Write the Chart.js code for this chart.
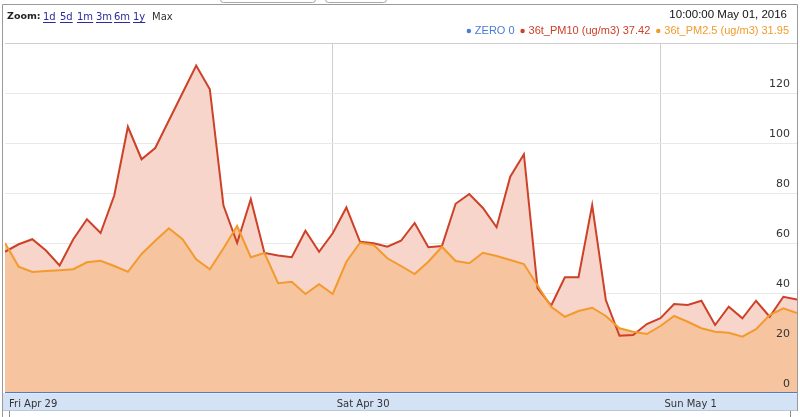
<!DOCTYPE html>
<html><head><meta charset="utf-8">
<script src="https://cdn.jsdelivr.net/npm/chart.js@4/dist/chart.umd.min.js"></script>
<style>html,body{margin:0;padding:0;background:#fff;overflow:hidden}#wrap{position:relative;width:800px;height:417px}canvas{display:block}</style>
</head><body><div id="wrap"><canvas id="c" width="800" height="417" style="width:800px;height:417px"></canvas></div>
<script>
// hourly readings, Fri Apr 29 00:00 -> Sun May 1 10:00 (hour offsets 0..58)
const pm10 = [56.5,59.5,61.5,57,51,61.5,69.5,64,79,106.5,93.5,98,109,120,131,121.5,75,60,77.5,56,
  55,54.3,64.9,56.5,63.9,74.2,60.5,59.9,58.5,60.9,68,58.3,58.8,75.7,79.6,74,66.3,86.5,95.5,42,
  35,46.3,46.3,75.2,37.2,22.9,23.2,27.6,29.9,35.6,35.2,36.9,27.2,34.5,29.9,36.9,30.5,38.5,37.42];
const pm25 = [60,50.5,48.4,48.8,49.1,49.5,52.3,52.9,50.8,48.5,55.6,60.9,65.9,61.5,53.5,49.5,57.9,66.8,54.3,56,
  43.9,44.5,39.6,43.5,39.6,52.5,60.1,59.2,53.9,50.8,47.6,52.5,58.5,52.8,51.9,56.1,54.8,53.2,51.6,43,
  34.5,30.5,32.8,34.1,30.8,25.9,24.5,23.6,26.8,30.8,28.5,25.9,24.5,24.1,22.5,25.5,31.2,33.9,31.95];
const zero = [0,0,0,0,0,0,0,0,0,0,0,0,0,0,0,0,0,0,0,0,0,0,0,0,0,0,0,0,0,0,
  0,0,0,0,0,0,0,0,0,0,0,0,0,0,0,0,0,0,0,0,0,0,0,0,0,0,0,0,0];
const dayTicks = [0,24,48];
const dayLabels = ['Fri Apr 29','Sat Apr 30','Sun May 1'];
const yTicks = [0,20,40,60,80,100,120,140];
const yLabels = ['0','20','40','60','80','100','120',''];
const seriesNames = ['ZERO','36t_PM10 (ug/m3)','36t_PM2.5 (ug/m3)'];
const lastValues = ['0','37.42','31.95'];
const timestamp = '10:00:00 May 01, 2016';
const zoomLinks = ['1d','5d','1m','3m','6m','1y'];

const colors = ['#4a7bd6','#cc4127','#f39a2c'];
const toXY = arr => arr.map((v,i)=>({x:i,y:v}));

const frame = {
  id:'frame',
  beforeDraw(chart){
    const c = chart.ctx;
    c.save();
    c.fillStyle='#fff'; c.fillRect(0,0,800,417);
    // partial buttons at top
    c.strokeStyle='#a8a8a8'; c.lineWidth=1;
    c.beginPath(); c.roundRect(220.5,-10.5,95,13,3); c.stroke();
    c.beginPath(); c.roundRect(325.5,-10.5,61,13,3); c.stroke();
    // outer frame
    c.strokeStyle='#9a9a9a';
    c.beginPath(); c.moveTo(2.5,417); c.lineTo(2.5,4.5); c.lineTo(797.5,4.5); c.lineTo(797.5,411); c.stroke();
    // x band
    c.fillStyle='#d4e2f6'; c.fillRect(3,393,794,17);
    c.strokeStyle='#b9c6dc'; c.beginPath(); c.moveTo(3,410.5); c.lineTo(797,410.5); c.stroke();
    // bottom brackets
    c.strokeStyle='#8a8a8a';
    c.beginPath(); c.moveTo(9.5,411); c.lineTo(9.5,417); c.stroke();
    c.beginPath(); c.moveTo(790.5,411); c.lineTo(790.5,417); c.stroke();
    // zoom bar
    c.textBaseline='middle';
    c.font='bold 9.5px "DejaVu Sans"'; c.fillStyle='#222'; c.textAlign='left';
    c.fillText('Zoom:',7,17);
    const lx=[43,60,77,96,114,133];
    c.font='10px "DejaVu Sans"';
    zoomLinks.forEach((t,i)=>{
      c.fillStyle='#2b2b9e'; c.fillText(t,lx[i],17);
      const w=c.measureText(t).width;
      c.fillRect(lx[i],22,w,1);
    });
    c.fillStyle='#333'; c.fillText('Max',152,17);
    // timestamp
    c.font='11.5px "Liberation Sans"'; c.textAlign='right'; c.fillStyle='#111';
    c.fillText(timestamp,787,15);
    // legend line (right aligned)
    c.font='11px "Liberation Sans"';
    let x=789;
    c.textAlign='left';
    for(let i=seriesNames.length-1;i>=0;i--){
      const t=seriesNames[i]+' '+lastValues[i];
      const w=c.measureText(t).width;
      x-=w; c.fillStyle=colors[i]; c.fillText(t,x,31);
      x-=7; c.beginPath(); c.arc(x+1,31,2.2,0,Math.PI*2); c.fill();
      x-=7;
    }
    c.restore();
  },
  afterDraw(chart){
    const c = chart.ctx, s = chart.scales.y;
    c.save();
    c.font='11px "DejaVu Sans"'; c.fillStyle='#333';
    c.textAlign='right'; c.textBaseline='bottom';
    yTicks.forEach((v,i)=>{
      if(!yLabels[i]) return;
      c.fillText(yLabels[i], 790, s.getPixelForValue(v)-3);
    });
    c.restore();
  }
};

new Chart(document.getElementById('c'),{
  type:'line',
  data:{datasets:[
    {label:seriesNames[0],data:toXY(zero),borderColor:colors[0],borderWidth:2,pointRadius:0,fill:false,order:0},
    {label:seriesNames[1],data:toXY(pm10),borderColor:colors[1],borderWidth:2,pointRadius:0,fill:'origin',backgroundColor:'#f8d5cb',order:2},
    {label:seriesNames[2],data:toXY(pm25),borderColor:colors[2],borderWidth:2,pointRadius:0,fill:'origin',backgroundColor:'#f7c4a0',order:1}
  ]},
  options:{
    responsive:false, animation:false, devicePixelRatio:1,
    layout:{padding:{top:43,left:2,right:3,bottom:0}},
    plugins:{legend:{display:false},tooltip:{enabled:false},filler:{drawTime:'beforeDatasetsDraw'}},
    elements:{line:{tension:0}},
    scales:{
      x:{type:'linear',min:0,max:58,
        afterBuildTicks(s){s.ticks=dayTicks.map(v=>({value:v}));},
        afterFit(s){s.height=24;},
        border:{display:false},
        grid:{drawTicks:false,color:ctx=>ctx.tick&&ctx.tick.value===0?'rgba(0,0,0,0)':'#cfcfcf'},
        ticks:{align:'start',labelOffset:4,padding:5,maxRotation:0,autoSkip:false,
          font:{family:'"DejaVu Sans"',size:10},color:'#333',
          callback:v=>dayLabels[dayTicks.indexOf(v)]}
      },
      y:{position:'right',min:0,max:140,
        afterBuildTicks(s){s.ticks=yTicks.map(v=>({value:v}));},
        afterFit(s){s.width=0;},
        border:{display:false},
        grid:{drawTicks:false,color:ctx=>ctx.tick&&ctx.tick.value===140?'#cfcfcf':'#e9e9e9'},
        ticks:{display:false}
      }
    }
  },
  plugins:[frame]
});
</script></body></html>
